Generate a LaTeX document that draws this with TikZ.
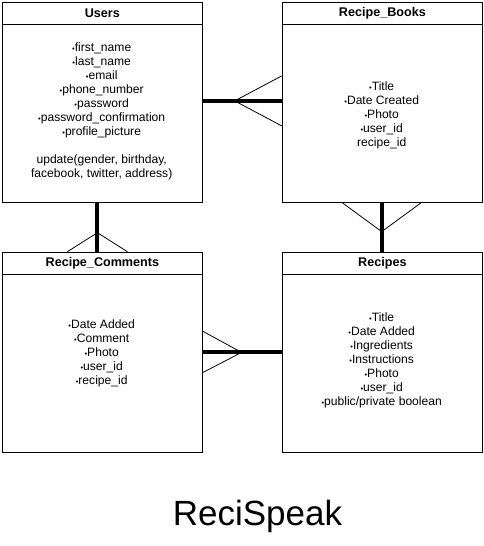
\documentclass[tikz,border=0pt]{standalone}
\usepackage{fontspec}
\setmainfont{Liberation Sans}
\newcommand{\bul}{{\fontsize{7.5}{7.5}\selectfont•}}
\begin{document}
\begin{tikzpicture}[x=1pt,y=-1pt,
  entity/.style={draw,line width=1.4pt,minimum width=200pt,minimum height=200pt,anchor=north west,inner sep=0pt},
  hdr/.style={font=\fontsize{12.6}{14}\selectfont\bfseries,inner sep=0pt},
  body/.style={font=\fontsize{12.1}{14}\selectfont,align=center,inner sep=0pt},
  rel/.style={line width=4pt},
  foot/.style={line width=0.8pt}]
\useasboundingbox[fill=white] (0,0) rectangle (483,546);
% boxes
\node[entity] (users) at (1.7,1.7) {};
\node[entity] (books) at (281.7,1.7) {};
\node[entity] (comments) at (1.7,251.7) {};
\node[entity] (recipes) at (281.7,251.7) {};
\foreach \b in {users,books,comments,recipes}{
  \draw[line width=1.4pt] ([yshift=-22.5pt]\b.north west) -- ([yshift=-22.5pt]\b.north east);
}
% headers
\node[hdr] (usersH) at ([yshift=-11.5pt]users.north) {Users};
\node[hdr] (booksH) at ([yshift=-11.5pt]books.north) {Recipe\_Books};
\node[hdr] (commentsH) at ([yshift=-11.5pt]comments.north) {Recipe\_Comments};
\node[hdr] (recipesH) at ([yshift=-11.5pt]recipes.north) {Recipes};
% bodies
\node[body] (usersB) at (101.7,111.5) {\bul first\_name\\\bul last\_name\\\bul email\\\bul phone\_number\\\bul password\\\bul password\_confirmation\\\bul profile\_picture\\[14pt]update(gender, birthday,\\facebook, twitter, address)};
\node[body] (booksB) at (381.7,115.5) {\bul Title\\\bul Date Created\\\bul Photo\\\bul user\_id\\recipe\_id};
\node[body] (commentsB) at (101.7,353.5) {\bul Date Added\\\bul Comment\\\bul Photo\\\bul user\_id\\\bul recipe\_id};
\node[body] (recipesB) at (381.7,360.5) {\bul Title\\\bul Date Added\\\bul Ingredients\\\bul Instructions\\\bul Photo\\\bul user\_id\\\bul public/private boolean};
% relation Users - Recipe_Books
\coordinate (ub1) at ([yshift=1.5pt]users.east);
\coordinate (ub2) at ([yshift=1.5pt]books.west);
\coordinate (ubv) at ([xshift=-47pt,yshift=1.5pt]books.west);
\draw[rel] (ub1) -- (ub2);
\draw[foot] ([yshift=26.5pt]books.west) -- (ubv) -- ([yshift=-23.5pt]books.west);
% relation Users - Recipe_Comments
\coordinate (uc1) at ([xshift=-5pt]users.south);
\coordinate (uc2) at ([xshift=-5pt]comments.north);
\coordinate (ucv) at ([xshift=-5pt,yshift=19pt]comments.north);
\draw[rel] (uc1) -- (uc2);
\draw[foot] ([xshift=-35pt]comments.north) -- (ucv) -- ([xshift=25pt]comments.north);
% relation Recipe_Books - Recipes
\coordinate (br1) at ([xshift=-0.7pt]books.south);
\coordinate (br2) at ([xshift=-0.7pt]recipes.north);
\coordinate (brv) at ([xshift=-0.7pt,yshift=-28.5pt]books.south);
\draw[rel] (br1) -- (br2);
\draw[foot] ([xshift=-39.7pt]books.south) -- (brv) -- ([xshift=38.3pt]books.south);
% relation Recipe_Comments - Recipes
\coordinate (cr1) at (comments.east);
\coordinate (cr2) at (recipes.west);
\coordinate (crv) at ([xshift=38.5pt]comments.east);
\draw[rel] (cr1) -- (cr2);
\draw[foot] ([yshift=21pt]comments.east) -- (crv) -- ([yshift=-20pt]comments.east);
% title
\node[font=\fontsize{35}{40}\selectfont,inner sep=0pt,anchor=base] (title) at (257.5,525) {ReciSpeak};
\end{tikzpicture}
\end{document}
